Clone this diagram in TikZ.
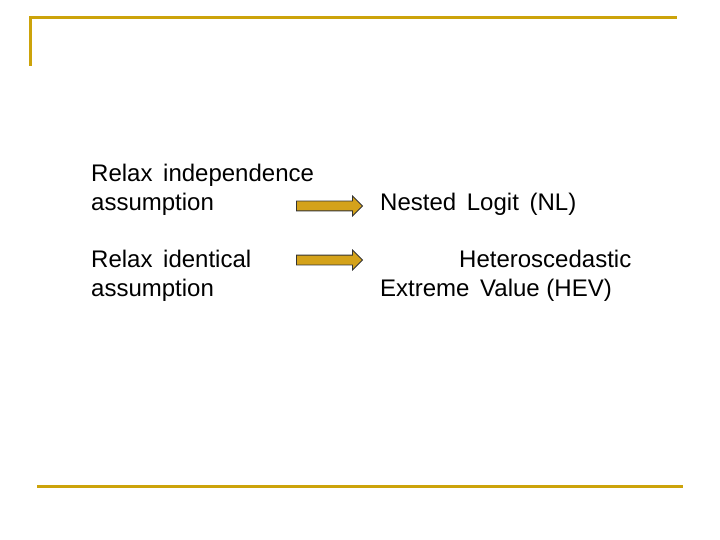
\documentclass[tikz,border=0pt]{standalone}
\usepackage{fontspec}
\setmainfont{Liberation Sans}
\usetikzlibrary{shapes.arrows}
\definecolor{rulegold}{RGB}{204,163,10}
\definecolor{arrowgold}{RGB}{212,162,26}
\begin{document}
\begin{tikzpicture}[x=1pt,y=-1pt,
    font=\fontsize{24}{29}\selectfont,
    txt/.style={anchor=west, align=left, inner sep=0pt},
    bigarrow/.style={single arrow, draw=black!80, fill=arrowgold, thick,
                     minimum height=66pt, inner sep=0pt,
                     single arrow head extend=5pt},
]
\useasboundingbox (0,0) rectangle (720,540);
% frame rules
\draw[rulegold, line width=3pt] (30,66) -- (30,18) -- (677,18);
\draw[rulegold, line width=3pt] (37,486) -- (683,486);
% left column
\node (indep) [txt] at (91,190) {Relax\, independence\\assumption};
\node (ident) [txt] at (91,276) {Relax\, identical\\assumption};
% right column
\node (nl)  [txt] at (380,204) {Nested\, Logit\, (NL)};
\node (hev) [txt] at (380,276) {\hspace*{79pt}Heteroscedastic\\Extreme\, Value (HEV)};
% arrows
\node (arrA) [bigarrow] at (327,206) {\rule{0pt}{9pt}};
\node (arrB) [bigarrow] at (327,260) {\rule{0pt}{9pt}};
\end{tikzpicture}
\end{document}
